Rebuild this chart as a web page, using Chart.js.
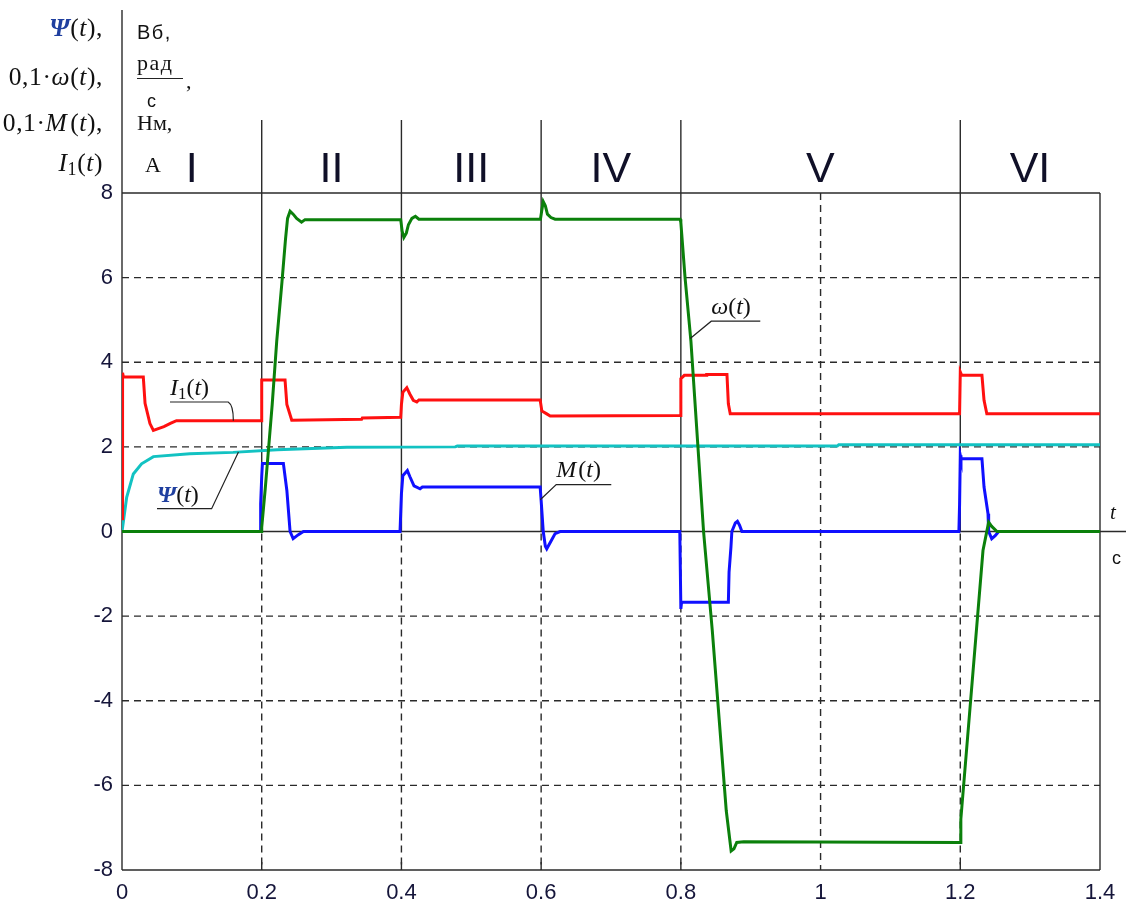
<!DOCTYPE html>
<html>
<head>
<meta charset="utf-8">
<script src="https://cdn.jsdelivr.net/npm/chart.js@4/dist/chart.umd.min.js"></script>
<style>
  html, body { margin: 0; padding: 0; background: #fff; }
  #wrap { position: relative; width: 1126px; height: 899px; overflow: hidden; }
  #c { position: absolute; left: 0; top: 0; }
  .lbl { position: absolute; white-space: nowrap; color: #111; line-height: 1; }
  .serif { font-family: 'Liberation Serif', 'Times New Roman', serif; }
  .sans { font-family: 'Liberation Sans', Arial, sans-serif; }
  .ttl { font-size: 25.5px; text-align: right; right: 1023px; letter-spacing: 0.6px; }
  .psi { color: #1f3f9f; font-style: italic; font-weight: bold; }
  .unit { left: 137px; }
  sub { font-size: 70%; vertical-align: -0.25em; line-height: 0; }
</style>
</head>
<body>
<div id="wrap">
  <canvas id="c" width="1126" height="899"></canvas>

  <!-- quantities on the vertical axis -->
  <div class="lbl serif ttl" style="top:15px"><span class="psi">Ψ</span>(<i>t</i>),</div>
  <div class="lbl serif ttl" style="top:64px">0,1·<i>ω</i>(<i>t</i>),</div>
  <div class="lbl serif ttl" style="top:110px">0,1·<i>M</i>&#8202;(<i>t</i>),</div>
  <div class="lbl serif ttl" style="top:150px"><i>I</i><sub>1</sub>(<i>t</i>)</div>

  <!-- their units -->
  <div class="lbl sans unit" style="top:22px;font-size:20px;letter-spacing:1.5px">Вб,</div>
  <div class="lbl serif unit" style="top:52px;font-size:22px;letter-spacing:1.5px">рад</div>
  <div class="lbl sans" style="left:137px;top:78px;width:46px;height:0;border-top:1.4px solid #222"></div>
  <div class="lbl serif" style="left:186px;top:70px;font-size:22px">,</div>
  <div class="lbl sans" style="left:147px;top:92px;font-size:18px">с</div>
  <div class="lbl serif unit" style="top:112px;font-size:22px">Нм,</div>
  <div class="lbl serif" style="left:145px;top:154px;font-size:22px">А</div>

  <!-- time axis name and unit -->
  <div class="lbl serif" id="tName" style="font-size:21px;font-style:italic">t</div>
  <div class="lbl sans" id="tUnit" style="font-size:18px">с</div>
</div>

<script>
// ---- operating stages ----
const stageNames  = ['I', 'II', 'III', 'IV', 'V', 'VI'];
const stageBounds = [0, 0.2, 0.4, 0.6, 0.8, 1.2, 1.4];

// ---- axis ticks ----
const timeTicks  = [0, 0.2, 0.4, 0.6, 0.8, 1, 1.2, 1.4];
const valueTicks = [-8, -6, -4, -2, 0, 2, 4, 6, 8];

// ---- 0.1·ω(t), rad/s ----
const omegaT = [0, 0.199, 0.2, 0.205, 0.215, 0.2215, 0.229, 0.234, 0.237, 0.2406, 0.245, 0.25, 0.257, 0.262,
  0.399, 0.401, 0.4035, 0.407, 0.41, 0.415, 0.42, 0.425,
  0.599, 0.601, 0.603, 0.606, 0.609, 0.614, 0.62,
  0.799, 0.8, 0.806, 0.8144, 0.8325, 0.845, 0.865, 0.872, 0.876, 0.88, 0.89,
  1.2, 1.2008, 1.2325, 1.2406, 1.245, 1.2526, 1.4];
const omegaV = [0, 0, 0.1, 1.0, 3.0, 4.5, 5.9, 6.9, 7.4, 7.57, 7.5, 7.4, 7.31, 7.37,
  7.37, 7.1, 6.95, 7.05, 7.25, 7.4, 7.45, 7.38,
  7.38, 7.6, 7.8, 7.7, 7.5, 7.42, 7.38,
  7.38, 7.3, 6.0, 4.5, 0, -2.34, -6.6, -7.55, -7.5, -7.35, -7.33,
  -7.35, -6.8, -0.45, 0.22, 0.12, 0, 0];

// ---- I1(t), A ----
const currentT = [0, 0.0008, 0.002, 0.0305, 0.033, 0.04, 0.0449, 0.05, 0.06, 0.07, 0.078,
  0.199, 0.2, 0.2334, 0.236, 0.243, 0.343, 0.344,
  0.399, 0.4, 0.402, 0.4077, 0.412, 0.417, 0.422, 0.425,
  0.5986, 0.601, 0.608, 0.613,
  0.799, 0.8, 0.805, 0.836, 0.837, 0.866, 0.868, 0.8707,
  1.199, 1.2, 1.202, 1.231, 1.234, 1.238, 1.4];
const currentV = [0.3, 3.75, 3.65, 3.65, 3.03, 2.55, 2.39, 2.42, 2.48, 2.56, 2.62,
  2.62, 3.58, 3.58, 3.0, 2.63, 2.65, 2.68,
  2.70, 3.0, 3.29, 3.40, 3.25, 3.1, 3.06, 3.11,
  3.11, 2.85, 2.78, 2.73,
  2.74, 3.61, 3.69, 3.69, 3.71, 3.71, 3.02, 2.78,
  2.78, 3.77, 3.69, 3.69, 3.10, 2.78, 2.78];

// ---- Ψ(t), Wb ----
const fluxT = [0, 0.0067, 0.0162, 0.028, 0.0449, 0.097, 0.159, 0.222, 0.322, 0.477, 0.48, 1.024, 1.026, 1.4];
const fluxV = [0, 0.81, 1.36, 1.60, 1.77, 1.84, 1.87, 1.93, 1.99, 2.0, 2.02, 2.02, 2.05, 2.05];

// ---- 0.1·M(t), N·m ----
const torqueT = [0, 0.198, 0.1985, 0.2, 0.201, 0.231, 0.236, 0.2406, 0.245, 0.252, 0.2597,
  0.398, 0.4, 0.402, 0.4085, 0.412, 0.418, 0.4267, 0.43,
  0.5986, 0.6, 0.603, 0.606, 0.608, 0.615, 0.62, 0.627,
  0.7985, 0.8, 0.801, 0.868, 0.869, 0.8717, 0.873, 0.878, 0.881, 0.884, 0.8874,
  1.198, 1.199, 1.2, 1.201, 1.231, 1.234, 1.2397, 1.2406, 1.245, 1.25, 1.255, 1.4];
const torqueV = [0, 0, 0.65, 1.3, 1.61, 1.61, 0.97, 0, -0.17, -0.08, 0,
  0, 0.89, 1.32, 1.44, 1.3, 1.08, 1.01, 1.05,
  1.05, 0.73, 0, -0.35, -0.41, -0.2, -0.05, 0,
  0, -1.83, -1.67, -1.67, -0.96, -0.37, 0, 0.2, 0.24, 0.15, 0,
  0, 0.65, 1.80, 1.72, 1.72, 1.05, 0.42, 0, -0.17, -0.1, 0, 0];

const toPoints = (ts, vs) => ts.map((t, i) => ({ x: t, y: vs[i] }));

// curve captions: text over a short underline, tied to the curve by a leader line (data coordinates)
const captions = [
  { html: '<i>I</i><sub>1</sub>(<i>t</i>)', target: [0.1594, 2.62], elbow: [0.152, 3.06], end: [0.0687, 3.06], bend: true },
  { html: '<span class="psi">Ψ</span>(<i>t</i>)', target: [0.1667, 1.88], elbow: [0.1283, 0.54], end: [0.0501, 0.54] },
  { html: '<i>M</i>&#8202;(<i>t</i>)', target: [0.5987, 0.75], elbow: [0.6216, 1.11], end: [0.7004, 1.11] },
  { html: '<i>ω</i>(<i>t</i>)', target: [0.8134, 4.56], elbow: [0.8435, 4.97], end: [0.9137, 4.97] }
];

const wrap = document.getElementById('wrap');
const stageEls = stageNames.map(n => {
  const d = document.createElement('div');
  d.className = 'lbl sans';
  d.style.fontSize = '43px';
  d.style.color = '#101028';
  d.textContent = n;
  wrap.appendChild(d);
  return d;
});
const captionEls = captions.map(c => {
  const d = document.createElement('div');
  d.className = 'lbl serif';
  d.style.fontSize = '24px';
  d.innerHTML = c.html;
  wrap.appendChild(d);
  return d;
});

const INK = '#2a2a2a';

const framePlugin = {
  id: 'frame',
  beforeDatasetsDraw(chart) {
    const { ctx, chartArea: a, scales: { x, y } } = chart;
    const y0 = y.getPixelForValue(0);
    const seg = (x1, y1, x2, y2) => { ctx.beginPath(); ctx.moveTo(x1, y1); ctx.lineTo(x2, y2); ctx.stroke(); };
    ctx.save();
    ctx.strokeStyle = INK;
    ctx.lineWidth = 1.4;

    // dashed grid
    ctx.setLineDash([7, 5]);
    valueTicks.filter(v => v !== 0 && Math.abs(v) !== 8).forEach(v => {
      const py = y.getPixelForValue(v);
      seg(a.left, py, a.right, py);
    });
    timeTicks.filter(t => t > 0 && t < 1.4).forEach(t => {
      const px = x.getPixelForValue(t);
      if (stageBounds.includes(t)) seg(px, y0 + 2, px, a.bottom);
      else seg(px, a.top, px, a.bottom);
    });
    ctx.setLineDash([]);

    // frame, zero line and stage separators
    seg(a.left, a.top, a.right, a.top);
    seg(a.left, a.bottom, a.right, a.bottom);
    seg(a.left, 10, a.left, a.bottom);
    seg(a.right, a.top, a.right, a.bottom);
    seg(a.left, y0, chart.width, y0);
    stageBounds.slice(1, -1).forEach(t => {
      const px = x.getPixelForValue(t);
      seg(px, a.top - 73, px, y0);
      seg(px, a.bottom - 8, px, a.bottom);
    });
    ctx.restore();
  },
  afterDatasetsDraw(chart) {
    const { ctx, chartArea: a, scales: { x, y } } = chart;
    const P = p => [x.getPixelForValue(p[0]), y.getPixelForValue(p[1])];
    ctx.save();
    ctx.strokeStyle = '#222';
    ctx.lineWidth = 1.2;
    captions.forEach((c, i) => {
      const [tx, ty] = P(c.target), [ex, ey] = P(c.elbow), [nx, ny] = P(c.end);
      ctx.beginPath();
      ctx.moveTo(nx, ny);
      ctx.lineTo(ex, ey);
      if (c.bend) ctx.quadraticCurveTo(tx, ey + 3, tx, ty);
      else ctx.lineTo(tx, ty);
      ctx.stroke();
      const el = captionEls[i];
      el.style.left = Math.min(nx, ex) + 'px';
      el.style.top = (ny - 7 - 0.8375 * 24) + 'px';
    });
    ctx.restore();

    // stage names centred in each stage
    stageEls.forEach((el, i) => {
      const mid = (x.getPixelForValue(stageBounds[i]) + x.getPixelForValue(stageBounds[i + 1])) / 2;
      el.style.left = (mid - el.offsetWidth / 2) + 'px';
      el.style.top = (a.top - 11 - 0.8465 * 43) + 'px';
    });

    const y0 = y.getPixelForValue(0);
    const tName = document.getElementById('tName');
    const tUnit = document.getElementById('tUnit');
    tName.style.left = (a.right + 10) + 'px';
    tName.style.top = (y0 - 30) + 'px';
    tUnit.style.left = (a.right + 12) + 'px';
    tUnit.style.top = (y0 + 17) + 'px';
  }
};

const line = (data, color) => ({
  data, borderColor: color, backgroundColor: color,
  borderWidth: 3, pointRadius: 0, tension: 0, fill: false
});

const tickFont = { family: "'Liberation Sans', Arial, sans-serif", size: 22 };

new Chart(document.getElementById('c'), {
  type: 'line',
  data: {
    datasets: [
      line(toPoints(omegaT, omegaV), '#0b800b'),
      line(toPoints(currentT, currentV), '#ff1010'),
      line(toPoints(fluxT, fluxV), '#12c2c2'),
      line(toPoints(torqueT, torqueV), '#1010ff')
    ]
  },
  options: {
    responsive: false,
    animation: false,
    devicePixelRatio: 1,
    layout: { padding: { top: 193, right: 26, left: 0, bottom: 0 } },
    plugins: { legend: { display: false }, tooltip: { enabled: false } },
    scales: {
      x: {
        type: 'linear', min: 0, max: 1.4,
        grid: { display: false, drawTicks: false }, border: { display: false },
        afterBuildTicks: s => { s.ticks = timeTicks.map(v => ({ value: v })); },
        afterFit: s => { s.height = 29; },
        ticks: {
          autoSkip: false, maxRotation: 0, padding: 10, color: '#15153a',
          font: tickFont,
          callback: v => String(Math.round(v * 10) / 10)
        }
      },
      y: {
        type: 'linear', min: -8, max: 8,
        grid: { display: false, drawTicks: false }, border: { display: false },
        afterBuildTicks: s => { s.ticks = valueTicks.map(v => ({ value: v })); },
        afterFit: s => { s.width = 122; },
        ticks: {
          autoSkip: false, padding: 9, color: '#15153a',
          font: tickFont,
          callback: v => String(v)
        }
      }
    }
  },
  plugins: [framePlugin]
});
</script>
</body>
</html>
